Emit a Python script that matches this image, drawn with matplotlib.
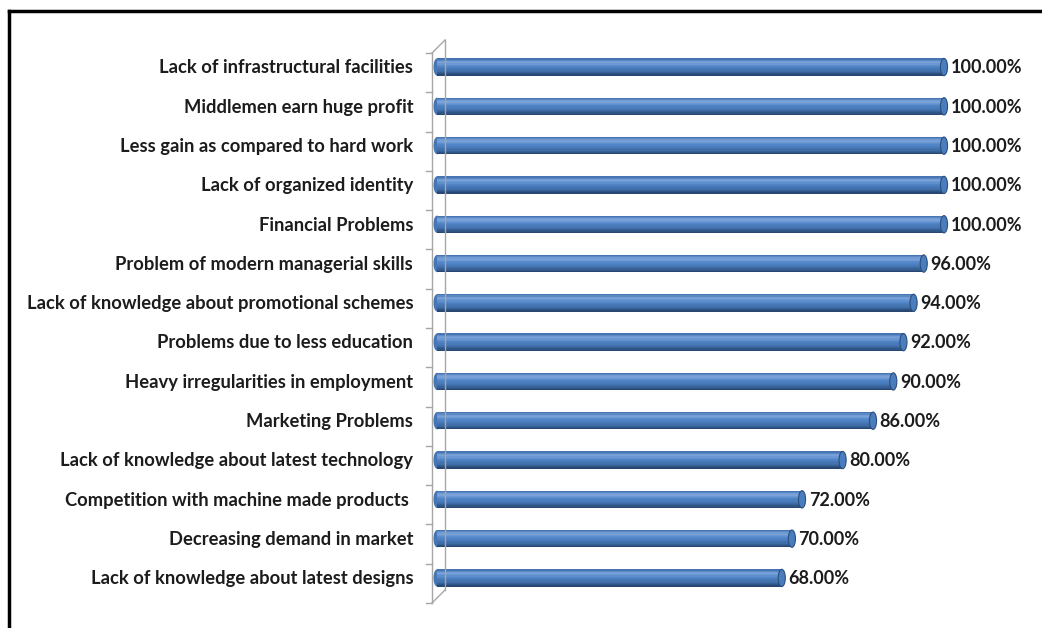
import matplotlib
matplotlib.use('Agg')
import matplotlib.pyplot as plt
import numpy as np
from matplotlib.patches import Ellipse
from matplotlib.lines import Line2D
from matplotlib.colors import LinearSegmentedColormap

# data, top to bottom
problems = [
    'Lack of infrastructural facilities',
    'Middlemen earn huge profit',
    'Less gain as compared to hard work',
    'Lack of organized identity',
    'Financial Problems',
    'Problem of modern managerial skills',
    'Lack of knowledge about promotional schemes',
    'Problems due to less education',
    'Heavy irregularities in employment',
    'Marketing Problems',
    'Lack of knowledge about latest technology',
    'Competition with machine made products ',
    'Decreasing demand in market',
    'Lack of knowledge about latest designs',
]
percent = [100, 100, 100, 100, 100, 96, 94, 92, 90, 86, 80, 72, 70, 68]

plt.rcParams['font.family'] = ['Lato', 'DejaVu Sans']

W, H = 1042, 628
fig = plt.figure(figsize=(W / 100, H / 100), dpi=100)
fig.patch.set_facecolor('white')

ax = fig.add_axes([437 / W, 1 - 597.6 / H, (944 - 437) / W, (597.6 - 47.4) / H])
ax.set_xlim(0, 100)
ax.set_ylim(len(problems) - 0.5, -0.5)
ax.axis('off')

ypos = np.arange(len(problems))
h = 0.44
# cylinder shading, top -> bottom
shade = LinearSegmentedColormap.from_list(
    'cyl', [(0, '#3d6cab'), (0.22, '#7ea6dc'), (0.45, '#5286c8'),
            (0.75, '#3f6ea9'), (1, '#24426a')])
n = 14
for i in range(n):
    off = -h / 2 + (i + 0.5) * h / n
    ax.barh(ypos + off, percent, height=h / n * 1.05, color=shade((i + 0.5) / n),
            lw=0, zorder=3)

for y, v in zip(ypos, percent):
    ax.add_patch(Ellipse((v, y), 1.4, h, facecolor='#4a7dbd', edgecolor='#2b4f7e',
                         lw=0.8, zorder=6, clip_on=False))
    ax.add_patch(Ellipse((0, y), 1.4, h, facecolor='#4676b4', edgecolor='none',
                         zorder=1, clip_on=False))
    ax.text(v + 1.3, y + 0.02, f'{v:.2f}%', va='center', ha='left', fontsize=13,
            fontweight='bold', color='#1c1c1c', clip_on=False)
    ax.text(-4.7, y + 0.02, problems[y], va='center', ha='right', fontsize=13.2,
            fontweight='bold', color='#1c1c1c', clip_on=False)

# 3d wall of the category axis
wall = '#a6a6a6'
top_f, bot_f = 53, 603
top_b, bot_b = 40, 590
for (x0, y0), (x1, y1) in [((432, top_f), (432, bot_f)), ((445, top_b), (445, bot_b)),
                           ((432, top_f), (445, top_b)), ((432, bot_f), (445, bot_b))]:
    fig.add_artist(Line2D([x0 / W, x1 / W], [1 - y0 / H, 1 - y1 / H], color=wall, lw=1))
step = (bot_f - top_f) / len(problems)
for k in range(len(problems) + 1):
    yy = top_f + k * step
    fig.add_artist(Line2D([426 / W, 432 / W], [1 - yy / H, 1 - yy / H], color=wall, lw=1))

# outer frame (top and left only visible)
fig.add_artist(Line2D([9 / W, 1], [1 - 11 / H, 1 - 11 / H], color='black', lw=2.5))
fig.add_artist(Line2D([9 / W, 9 / W], [1 - 11 / H, 0], color='black', lw=2.5))

fig.savefig('out.png', dpi=100, facecolor='white')
